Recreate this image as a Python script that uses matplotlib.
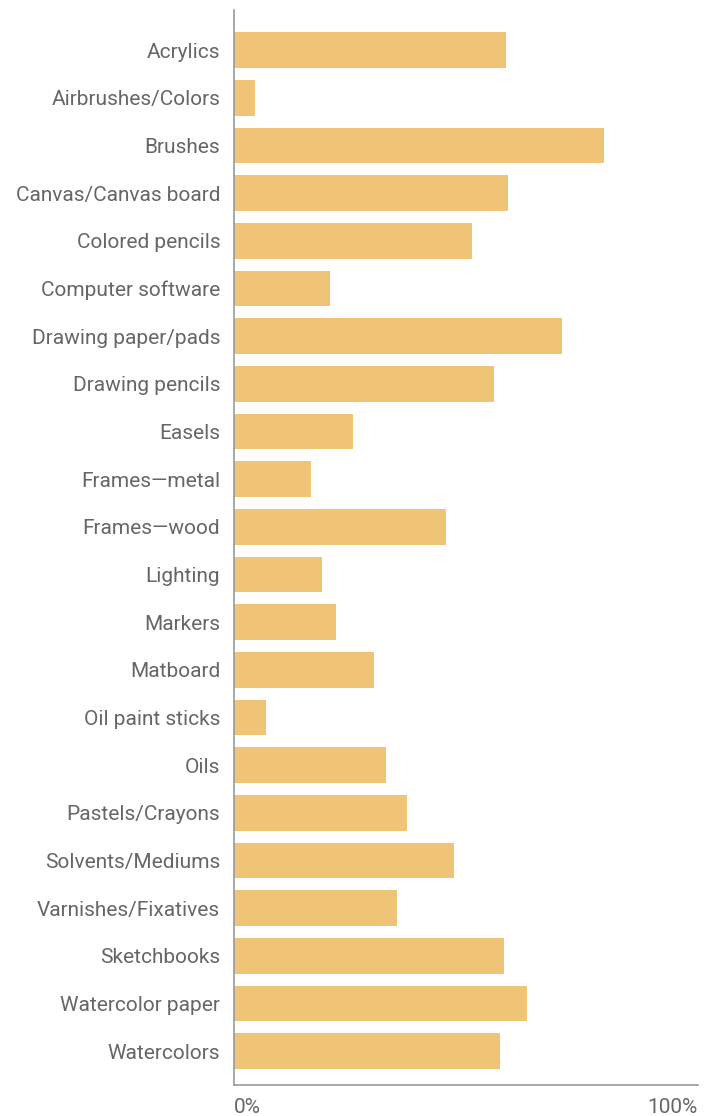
import matplotlib
matplotlib.use("Agg")
import matplotlib.pyplot as plt
from matplotlib.ticker import FixedLocator

# ── Data ──────────────────────────────────────────────────────────────────────
categories = [
    "Acrylics", "Airbrushes/Colors", "Brushes", "Canvas/Canvas board",
    "Colored pencils", "Computer software", "Drawing paper/pads",
    "Drawing pencils", "Easels", "Frames\u2014metal", "Frames\u2014wood",
    "Lighting", "Markers", "Matboard", "Oil paint sticks", "Oils",
    "Pastels/Crayons", "Solvents/Mediums", "Varnishes/Fixatives",
    "Sketchbooks", "Watercolor paper", "Watercolors",
]
values = [
    58.7, 4.7, 79.8, 59.1, 51.3, 20.7, 70.8, 56.1, 25.7, 16.6, 45.7,
    19.0, 22.0, 30.2, 7.1, 32.8, 37.3, 47.5, 35.2, 58.3, 63.2, 57.4,
]
tick_values = [0, 100]
tick_labels = ["0%", "100%"]

BAR_COLOR = "#F0C476"
TEXT_COLOR = "#666666"
AXIS_COLOR = "#9A9A9A"

plt.rcParams["font.family"] = ["Roboto", "DejaVu Sans"]

W, H = 712, 1116
fig = plt.figure(figsize=(W / 100, H / 100), dpi=100)
ax = fig.add_axes([233.5 / W, 1 - 1085 / H, 464 / W, 1075 / H])

y = list(range(len(categories)))
ax.barh(y, values, height=0.75, color=BAR_COLOR, linewidth=0)

ax.set_xlim(0, 100)
ax.set_ylim(21.71, -0.84)

ax.set_yticks(y)
ax.set_yticklabels(categories, fontsize=15, color=TEXT_COLOR)
ax.xaxis.set_major_locator(FixedLocator(tick_values))
ax.set_xticklabels(tick_labels, fontsize=15, color=TEXT_COLOR)
ax.tick_params(axis="both", length=0)
ax.tick_params(axis="y", pad=9.5)
ax.tick_params(axis="x", pad=9.5)
labels = ax.get_xticklabels()
labels[0].set_ha("left")
labels[-1].set_ha("right")

for side in ("top", "right"):
    ax.spines[side].set_visible(False)
for side in ("left", "bottom"):
    ax.spines[side].set_color(AXIS_COLOR)
    ax.spines[side].set_linewidth(1.2)

fig.savefig("out.png", dpi=100)
plt.close("all")
